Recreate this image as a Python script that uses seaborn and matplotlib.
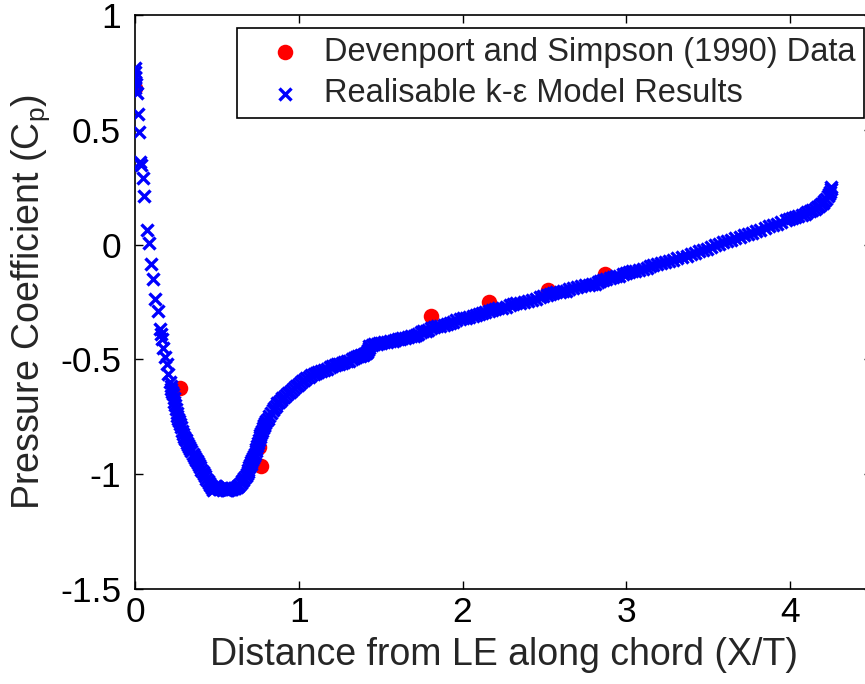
import matplotlib
matplotlib.use("Agg")
import matplotlib.pyplot as plt
import seaborn as sns
import pandas as pd

# Experimental data (Devenport and Simpson 1990)
exp_x = [0.0, 0.274, 0.756, 0.77, 1.81, 2.16, 2.52, 2.87]
exp_cp = [0.683, -0.626, -0.883, -0.965, -0.313, -0.252, -0.196, -0.13]

# Realisable k-epsilon model results
model_x = [
    0.000, 0.000, 0.003, 0.000, 0.005, 0.003, 0.010, 0.018, 0.022, 0.030,
    0.035, 0.049, 0.055, 0.073, 0.085, 0.098, 0.110, 0.122, 0.140, 0.152,
    0.160, 0.165, 0.171, 0.183, 0.195, 0.201,
    0.213, 0.218, 0.222, 0.226, 0.232, 0.236, 0.240, 0.245, 0.250, 0.255,
    0.259, 0.263, 0.269, 0.275, 0.281, 0.288, 0.293, 0.298, 0.304, 0.310,
    0.317, 0.323, 0.330, 0.337, 0.344, 0.352, 0.359, 0.366, 0.372, 0.378,
    0.385, 0.391, 0.398, 0.406, 0.413, 0.421, 0.428, 0.436, 0.443, 0.450,
    0.458, 0.465, 0.470, 0.475, 0.480, 0.485, 0.490, 0.495, 0.500, 0.505,
    0.512, 0.519, 0.526, 0.534, 0.541, 0.549, 0.555, 0.561, 0.567, 0.573,
    0.580, 0.588, 0.595, 0.603, 0.613, 0.623, 0.630, 0.637, 0.645, 0.652,
    0.660, 0.667, 0.675, 0.682, 0.687, 0.692, 0.697, 0.701, 0.706, 0.711,
    0.716, 0.721, 0.726, 0.731, 0.736, 0.741, 0.746, 0.751, 0.756, 0.761,
    0.766, 0.771, 0.776, 0.780, 0.785, 0.790, 0.795,
    0.800, 0.810, 0.820, 0.830, 0.840, 0.850, 0.860, 0.870, 0.880, 0.890,
    0.900, 0.912, 0.924, 0.936, 0.948, 0.960, 0.972, 0.985, 0.997, 1.010,
    1.022, 1.034, 1.046, 1.061, 1.076, 1.090, 1.105, 1.120, 1.135, 1.155,
    1.175, 1.190, 1.204, 1.219, 1.233, 1.248, 1.263, 1.278, 1.293, 1.308,
    1.322, 1.337, 1.352, 1.362, 1.371, 1.381, 1.391, 1.401, 1.411, 1.416,
    1.421, 1.426, 1.430, 1.445, 1.460, 1.475, 1.490, 1.505, 1.519, 1.539,
    1.558, 1.573, 1.588, 1.603, 1.618, 1.633, 1.647, 1.667, 1.686, 1.701,
    1.716, 1.731, 1.746, 1.760, 1.775, 1.790, 1.805, 1.825, 1.844, 1.864,
    1.884, 1.904, 1.923, 1.943, 1.962, 1.982, 2.002, 2.021, 2.041, 2.061,
    2.081, 2.100, 2.120, 2.140, 2.159, 2.179, 2.199, 2.218, 2.238, 2.263,
    2.287, 2.307, 2.327, 2.351, 2.376, 2.400, 2.425, 2.450, 2.475, 2.494,
    2.514, 2.534, 2.553, 2.573, 2.593, 2.612, 2.632, 2.652, 2.672, 2.696,
    2.721, 2.745, 2.770, 2.790, 2.809, 2.824, 2.839, 2.859, 2.878, 2.898,
    2.918, 2.937, 2.957, 2.977, 2.996, 3.016, 3.036, 3.055, 3.075, 3.100,
    3.125, 3.145, 3.164, 3.189, 3.213, 3.238, 3.262, 3.287, 3.312, 3.341,
    3.371, 3.396, 3.420, 3.445, 3.469, 3.494, 3.519, 3.543, 3.568, 3.593,
    3.617, 3.642, 3.666, 3.691, 3.716, 3.740, 3.765, 3.790, 3.814, 3.844,
    3.873, 3.898, 3.922, 3.947, 3.972, 3.992, 4.011, 4.031, 4.051, 4.070,
    4.090, 4.105, 4.120, 4.135, 4.149, 4.164, 4.179, 4.189, 4.199, 4.209,
    4.219, 4.229, 4.238, 4.243, 4.248, 4.250,
]
model_cp = [
    0.770, 0.750, 0.730, 0.710, 0.700, 0.680, 0.660, 0.570, 0.490, 0.360,
    0.345, 0.290, 0.210, 0.065, 0.005, -0.083, -0.148, -0.236, -0.288, -0.367,
    -0.390, -0.410, -0.450, -0.490, -0.520, -0.563,
    -0.600, -0.615, -0.628, -0.640, -0.652, -0.668, -0.684, -0.700, -0.716, -0.732,
    -0.745, -0.758, -0.770, -0.782, -0.796, -0.812, -0.826, -0.838, -0.846, -0.853,
    -0.862, -0.872, -0.882, -0.891, -0.900, -0.910, -0.920, -0.930, -0.936, -0.942,
    -0.952, -0.960, -0.970, -0.980, -0.990, -1.000, -1.010, -1.020, -1.030, -1.040,
    -1.046, -1.052, -1.062, -1.070, -1.064, -1.058, -1.052, -1.050, -1.056, -1.060,
    -1.064, -1.066, -1.062, -1.060, -1.064, -1.066, -1.068, -1.070, -1.067, -1.065,
    -1.065, -1.065, -1.063, -1.060, -1.058, -1.055, -1.050, -1.045, -1.038, -1.030,
    -1.025, -1.018, -1.010, -1.000, -0.990, -0.980, -0.970, -0.962, -0.956, -0.948,
    -0.939, -0.930, -0.920, -0.910, -0.900, -0.890, -0.876, -0.862, -0.851, -0.840,
    -0.830, -0.820, -0.810, -0.800, -0.792, -0.785, -0.777,
    -0.770, -0.758, -0.748, -0.735, -0.722, -0.712, -0.702, -0.692, -0.685, -0.676,
    -0.669, -0.662, -0.655, -0.648, -0.640, -0.633, -0.626, -0.618, -0.611, -0.603,
    -0.596, -0.589, -0.582, -0.576, -0.570, -0.565, -0.560, -0.555, -0.550, -0.545,
    -0.540, -0.535, -0.530, -0.525, -0.521, -0.518, -0.515, -0.512, -0.509, -0.505,
    -0.500, -0.495, -0.490, -0.487, -0.484, -0.482, -0.480, -0.477, -0.474, -0.466,
    -0.458, -0.449, -0.441, -0.438, -0.435, -0.433, -0.430, -0.428, -0.425, -0.423,
    -0.420, -0.418, -0.415, -0.413, -0.410, -0.408, -0.405, -0.403, -0.400, -0.398,
    -0.395, -0.388, -0.381, -0.378, -0.375, -0.370, -0.365, -0.360, -0.355, -0.353,
    -0.350, -0.345, -0.340, -0.335, -0.330, -0.325, -0.320, -0.318, -0.315, -0.310,
    -0.305, -0.303, -0.300, -0.295, -0.290, -0.285, -0.280, -0.278, -0.275, -0.270,
    -0.265, -0.260, -0.255, -0.253, -0.250, -0.245, -0.240, -0.235, -0.230, -0.225,
    -0.220, -0.215, -0.210, -0.208, -0.205, -0.203, -0.200, -0.195, -0.190, -0.185,
    -0.180, -0.178, -0.175, -0.173, -0.170, -0.165, -0.160, -0.155, -0.150, -0.145,
    -0.140, -0.138, -0.135, -0.130, -0.125, -0.120, -0.115, -0.113, -0.110, -0.105,
    -0.100, -0.095, -0.090, -0.085, -0.080, -0.075, -0.070, -0.065, -0.060, -0.054,
    -0.048, -0.042, -0.035, -0.030, -0.025, -0.018, -0.010, -0.003, 0.004, 0.010,
    0.015, 0.022, 0.028, 0.034, 0.040, 0.046, 0.052, 0.059, 0.065, 0.072,
    0.080, 0.085, 0.090, 0.098, 0.105, 0.110, 0.115, 0.120, 0.125, 0.130,
    0.135, 0.140, 0.145, 0.150, 0.155, 0.162, 0.170, 0.175, 0.180, 0.190,
    0.200, 0.210, 0.220, 0.230, 0.240, 0.250,
]

x_ticks = [0, 1, 2, 3, 4]
y_ticks = [-1.5, -1, -0.5, 0, 0.5, 1]
y_tick_labels = ["-1.5", "-1", "-0.5", "0", "0.5", "1"]

exp_label = "Devenport and Simpson (1990) Data"
model_label = "Realisable k-\u03b5 Model Results"

sns.set_theme(style="white")
plt.rcParams["font.family"] = ["Liberation Sans", "DejaVu Sans"]

fig = plt.figure(figsize=(8.65, 6.84), dpi=100)
ax = fig.add_axes([135 / 865, 1 - 589 / 684, 737 / 865, 574 / 684])

df_exp = pd.DataFrame({"x": exp_x, "cp": exp_cp})
df_mod = pd.DataFrame({"x": model_x, "cp": model_cp})

sns.scatterplot(data=df_exp, x="x", y="cp", ax=ax, marker="o", s=125,
                color="#ff0000", edgecolor="#ff0000", linewidth=0,
                label=exp_label, zorder=2)
sns.scatterplot(data=df_mod, x="x", y="cp", ax=ax, marker="x", s=75,
                color="#0000ff", linewidth=2.4, label=model_label, zorder=3)

ax.set_xlim(0, 4.5)
ax.set_ylim(-1.5, 1)
ax.set_xticks(x_ticks)
ax.set_xticklabels([str(t) for t in x_ticks])
ax.set_yticks(y_ticks)
ax.set_yticklabels(y_tick_labels)

for sp in ax.spines.values():
    sp.set_visible(True)
    sp.set_color("black")
    sp.set_linewidth(1.2)

ax.tick_params(axis="both", which="both", direction="in", length=6, width=1,
               colors="black", labelsize=25.5, top=True, right=True,
               bottom=True, left=True)
ax.tick_params(axis="x", pad=5)
ax.tick_params(axis="y", pad=10)

ax.set_xlabel("Distance from LE along chord (X/T)", fontsize=27, labelpad=6)
ax.set_ylabel("Pressure Coefficient (C$_\\mathregular{p}$)", fontsize=27, labelpad=6)

leg = ax.legend(loc="upper right", bbox_to_anchor=(0.989, 0.977),
                borderaxespad=0, fontsize=23.5, frameon=True, fancybox=False,
                framealpha=1, edgecolor="black", handletextpad=0.0,
                handlelength=2.4, labelspacing=0.33, borderpad=0.26,
                markerscale=1.0)
leg.get_frame().set_linewidth(1.2)

fig.savefig("out.png", dpi=100)
